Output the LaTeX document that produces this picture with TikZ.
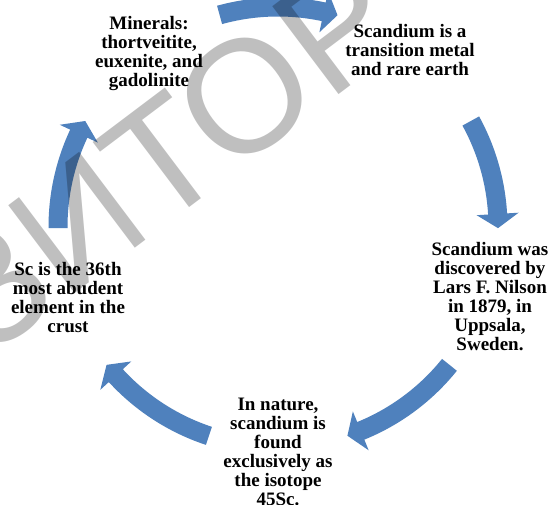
\documentclass[tikz,border=0pt]{standalone}
\usepackage{fontspec}
\setmainfont{Liberation Serif}
\newfontfamily\wmfont{Liberation Sans}
\definecolor{arrowblue}{HTML}{4F81BD}
\tikzset{
  label text/.style={font=\bfseries\fontsize{19}{19}\selectfont, align=center, anchor=north, inner sep=0pt, text=black},
  cyc arrow/.style={fill=arrowblue, draw=none},
  watermark/.style={font=\wmfont\fontsize{160}{160}\selectfont, text=black, text opacity=0.25, anchor=base west, inner sep=0pt, rotate=37}
}
\newcommand\cyclearrow[2]{% tail angle, tip angle
  \pgfmathsetmacro\hbase{#2+3.7}
  \fill[cyc arrow] ([shift={(C)}]#1:229.5pt) arc[start angle=#1, end angle=\hbase, radius=229.5pt]
    -- ([shift={(C)}]\hbase:241pt) -- ([shift={(C)}]#2:220pt) -- ([shift={(C)}]\hbase:199pt)
    -- ([shift={(C)}]\hbase:210.5pt) arc[start angle=\hbase, end angle=#1, radius=210.5pt] -- cycle;}
\begin{document}
\begin{tikzpicture}
\clip (0pt,0pt) rectangle (549pt,504pt);
\fill[white] (0pt,0pt) rectangle (549pt,504pt);
\coordinate (C) at (278pt,277pt);
% arrows
\cyclearrow{105.4}{74.3}
\cyclearrow{28.8}{-0.3}
\cyclearrow{-38.8}{-71.6}
\cyclearrow{-108.3}{-141.2}
\cyclearrow{180.3}{151.2}
% texts
\node[label text] (minerals) at (149pt,489pt) {\rule{0pt}{14pt}Minerals:\\thortveitite,\\euxenite, and\\gadolinite};
\node[label text] (transition) at (410pt,481pt) {\rule{0pt}{14pt}Scandium is a\\transition metal\\and rare earth};
\node[label text] (discovered) at (490pt,263pt) {\rule{0pt}{14pt}Scandium was\\discovered by\\Lars F. Nilson\\in 1879, in\\Uppsala,\\Sweden.};
\node[label text] (isotope) at (278pt,108pt) {\rule{0pt}{14pt}In nature,\\scandium is\\found\\exclusively as\\the isotope\\45Sc.};
\node[label text] (abundant) at (68pt,243pt) {\rule{0pt}{14pt}Sc is the 36th\\most abudent\\element in the\\crust};
% watermark
\node[watermark] (wm) at (-13pt,144pt) {ЗИТОР};
\end{tikzpicture}
\end{document}
